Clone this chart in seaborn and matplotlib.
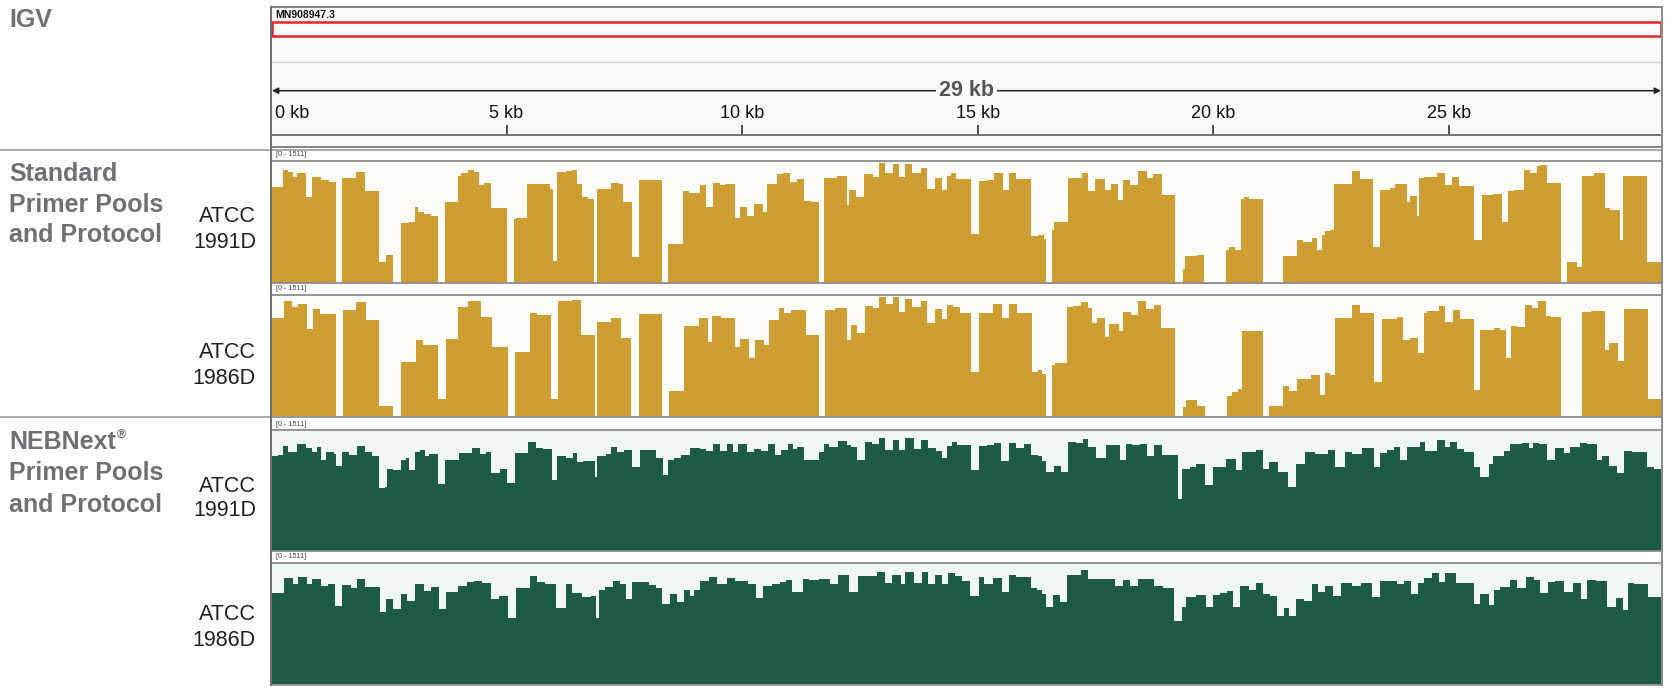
import numpy as np
import pandas as pd
import matplotlib
matplotlib.use("Agg")
import matplotlib.pyplot as plt
from matplotlib.lines import Line2D
from matplotlib.patches import Rectangle
import seaborn as sns

# ---------------- data ----------------
genome_id = "MN908947.3"
span_label = "29 kb"
view_start_kb = 0.0
view_end_kb = 29.53
data_range_label = "[0 - 1511]"
depth_max = 1511
ruler_ticks_kb = [0, 5, 10, 15, 20, 25]
ruler_tick_labels = ["0 kb", "5 kb", "10 kb", "15 kb", "20 kb", "25 kb"]

group_titles = [["Standard", "Primer Pools", "and Protocol"],
                ["NEBNext", "Primer Pools", "and Protocol"]]
sample_names = [["ATCC", "1991D"], ["ATCC", "1986D"], ["ATCC", "1991D"], ["ATCC", "1986D"]]

# Standard primer pools, ATCC 1991D  (step start in kb, read depth)
std_1991d_start = [
    0.00, 0.25, 0.36, 0.46, 0.55, 0.74, 0.86, 1.07, 1.23, 1.37,
    1.50, 1.80, 1.99, 2.30, 2.45, 2.58, 2.75, 2.94, 3.05, 3.13,
    3.24, 3.39, 3.55, 3.70, 3.96, 4.04, 4.19, 4.30, 4.42, 4.53,
    4.68, 5.02, 5.16, 5.21, 5.44, 5.67, 5.93, 5.98, 6.07, 6.27,
    6.39, 6.50, 6.60, 6.73, 6.86, 6.92, 7.22, 7.39, 7.48, 7.66,
    7.81, 8.30, 8.43, 8.74, 8.87, 9.11, 9.23, 9.38, 9.53, 9.64,
    9.86, 9.95, 10.10, 10.25, 10.44, 10.54, 10.63, 10.74, 10.86, 11.01,
    11.17, 11.32, 11.47, 11.64, 11.74, 12.01, 12.22, 12.27, 12.42, 12.59,
    12.78, 12.90, 13.03, 13.20, 13.33, 13.45, 13.60, 13.79, 13.92, 14.09,
    14.24, 14.36, 14.43, 14.55, 14.87, 15.02, 15.19, 15.34, 15.53, 15.66,
    15.81, 16.14, 16.29, 16.40, 16.46, 16.59, 16.63, 16.92, 17.22, 17.35,
    17.50, 17.71, 17.84, 17.99, 18.09, 18.24, 18.41, 18.59, 18.72, 18.91,
    19.19, 19.36, 19.40, 19.66, 19.81, 20.28, 20.33, 20.46, 20.59, 20.66,
    20.76, 21.07, 21.48, 21.73, 21.79, 21.91, 22.10, 22.20, 22.31, 22.38,
    22.49, 22.57, 22.95, 23.12, 23.23, 23.39, 23.55, 23.76, 23.87, 24.01,
    24.11, 24.17, 24.33, 24.38, 24.47, 24.75, 24.93, 25.07, 25.21, 25.53,
    25.71, 25.95, 26.13, 26.27, 26.38, 26.59, 26.73, 26.87, 26.95, 27.09,
    27.38, 27.51, 27.72, 27.83, 28.08, 28.33, 28.43, 28.63, 28.71, 29.21]
std_1991d_depth = [
    1190, 1405, 1375, 1307, 1360, 1058, 1307, 1269, 1254, 0,
    1299, 1375, 1133, 257, 348, 0, 740, 756, 937, 876,
    846, 831, 0, 997, 1330, 1360, 1405, 1375, 1209, 1239,
    922, 0, 786, 801, 1231, 1224, 1163, 272, 1375, 1390,
    1405, 1231, 1058, 1043, 0, 1163, 1239, 1231, 997, 317,
    1269, 0, 484, 1133, 1118, 1209, 937, 1239, 1209, 1224,
    801, 937, 831, 982, 876, 1224, 1231, 1345, 1360, 1254,
    1284, 1012, 997, 0, 1299, 1322, 967, 1148, 1058, 1345,
    1307, 1481, 1367, 1473, 1307, 1473, 1360, 1428, 1163, 1299,
    1148, 1330, 1367, 1284, 604, 1262, 1269, 1360, 1148, 1367,
    1284, 574, 589, 544, 0, 650, 756, 1299, 1367, 1133,
    1284, 1148, 1231, 1027, 1269, 1209, 1390, 1299, 1345, 1088,
    0, 166, 325, 348, 0, 408, 438, 400, 1043, 1058,
    1043, 0, 332, 325, 529, 500, 552, 400, 589, 635,
    650, 1231, 1390, 1292, 1284, 438, 1148, 1171, 1231, 1224,
    1005, 1073, 831, 1299, 1307, 1367, 1209, 1307, 1194, 529,
    1088, 1103, 756, 1133, 1148, 1405, 1360, 1451, 1466, 1239,
    0, 257, 196, 1330, 1360, 922, 907, 529, 1330, 257]

# Standard primer pools, ATCC 1986D
std_1986d_start = [
    0.00, 0.27, 0.44, 0.58, 0.76, 0.89, 1.05, 1.38, 1.52, 1.81,
    2.01, 2.30, 2.59, 2.77, 3.08, 3.23, 3.54, 3.71, 3.98, 4.19,
    4.46, 4.69, 5.03, 5.17, 5.49, 5.65, 5.94, 6.09, 6.40, 6.59,
    6.88, 6.93, 7.22, 7.43, 7.65, 7.82, 8.30, 8.45, 8.76, 9.09,
    9.27, 9.36, 9.55, 9.86, 9.96, 10.15, 10.27, 10.47, 10.58, 10.78,
    10.90, 11.04, 11.35, 11.64, 11.77, 11.98, 12.22, 12.31, 12.44, 12.60,
    12.77, 12.91, 13.06, 13.21, 13.34, 13.45, 13.61, 13.79, 13.92, 14.09,
    14.24, 14.36, 14.48, 14.62, 14.87, 15.04, 15.33, 15.52, 15.67, 15.84,
    16.15, 16.29, 16.37, 16.45, 16.59, 16.64, 16.90, 17.03, 17.19, 17.34,
    17.42, 17.53, 17.71, 17.80, 18.01, 18.09, 18.26, 18.40, 18.58, 18.74,
    18.90, 19.19, 19.37, 19.42, 19.66, 19.83, 20.29, 20.41, 20.53, 20.61,
    21.06, 21.19, 21.48, 21.61, 21.79, 22.08, 22.27, 22.37, 22.48, 22.58,
    22.95, 23.12, 23.41, 23.58, 23.90, 24.03, 24.19, 24.35, 24.47, 24.54,
    24.79, 24.93, 25.10, 25.25, 25.54, 25.67, 25.96, 26.09, 26.22, 26.33,
    26.45, 26.62, 26.76, 26.89, 27.06, 27.18, 27.38, 27.83, 28.02, 28.15,
    28.31, 28.41, 28.60, 28.73, 29.23]
std_1986d_depth = [
    1231, 1435, 1360, 1398, 1088, 1337, 1269, 0, 1322, 1420,
    1194, 136, 0, 680, 952, 884, 212, 967, 1360, 1435,
    1239, 861, 0, 801, 1284, 1262, 219, 1435, 1451, 1012,
    0, 1171, 1224, 982, 0, 1269, 0, 317, 1126, 1224,
    922, 1254, 1231, 861, 967, 725, 952, 884, 1194, 1345,
    1292, 1322, 1012, 0, 1322, 1345, 952, 1133, 1043, 1375,
    1345, 1488, 1405, 1481, 1299, 1466, 1360, 1435, 1163, 1337,
    1209, 1383, 1360, 1284, 552, 1292, 1405, 1231, 1405, 1292,
    559, 574, 529, 0, 635, 665, 1360, 1375, 1428, 1345,
    1163, 1224, 990, 1156, 1058, 1299, 1262, 1435, 1337, 1383,
    1095, 0, 113, 204, 136, 0, 257, 310, 340, 1065,
    0, 136, 385, 317, 461, 514, 272, 544, 514, 1224,
    1390, 1284, 423, 1209, 1239, 952, 982, 786, 1284, 1307,
    1375, 1179, 1322, 1209, 332, 1080, 1103, 1073, 725, 1126,
    1118, 1383, 1345, 1435, 1247, 1239, 0, 1299, 1315, 1307,
    823, 914, 695, 1337, 219]

# NEBNext primer pools, ATCC 1991D
neb_1991d_start = [
    0.00, 0.14, 0.25, 0.36, 0.55, 0.74, 0.86, 0.97, 1.07, 1.16,
    1.33, 1.39, 1.50, 1.65, 1.83, 1.99, 2.14, 2.30, 2.41, 2.47,
    2.60, 2.75, 2.86, 2.94, 3.05, 3.17, 3.27, 3.36, 3.55, 3.70,
    3.92, 4.00, 4.27, 4.43, 4.57, 4.68, 4.86, 5.01, 5.17, 5.46,
    5.63, 5.78, 5.97, 6.07, 6.27, 6.42, 6.50, 6.62, 6.88, 6.93,
    7.11, 7.22, 7.34, 7.49, 7.66, 7.83, 7.98, 8.17, 8.32, 8.43,
    8.55, 8.70, 8.89, 9.11, 9.23, 9.38, 9.53, 9.68, 9.80, 9.91,
    10.10, 10.25, 10.40, 10.55, 10.70, 10.82, 10.97, 11.08, 11.17, 11.32,
    11.63, 11.74, 11.85, 12.03, 12.23, 12.31, 12.45, 12.60, 12.76, 12.90,
    13.03, 13.20, 13.33, 13.46, 13.64, 13.79, 13.94, 14.11, 14.24, 14.36,
    14.45, 14.57, 14.87, 15.02, 15.19, 15.34, 15.49, 15.66, 15.81, 15.99,
    16.14, 16.28, 16.37, 16.46, 16.63, 16.77, 16.92, 17.09, 17.24, 17.35,
    17.52, 17.73, 18.03, 18.15, 18.28, 18.45, 18.60, 18.75, 18.91, 19.25,
    19.35, 19.50, 19.63, 19.82, 20.00, 20.28, 20.48, 20.61, 20.91, 21.07,
    21.18, 21.37, 21.60, 21.77, 21.96, 22.17, 22.45, 22.59, 22.81, 22.95,
    23.16, 23.41, 23.55, 23.69, 23.83, 23.97, 24.11, 24.40, 24.50, 24.75,
    24.93, 25.03, 25.18, 25.32, 25.53, 25.67, 25.85, 25.95, 26.17, 26.31,
    26.56, 26.70, 26.80, 26.91, 27.09, 27.26, 27.44, 27.58, 27.79, 27.94,
    28.15, 28.26, 28.40, 28.57, 28.73, 28.89, 29.21, 29.35]
neb_1991d_depth = [
    1179, 1194, 1315, 1239, 1330, 1284, 1239, 1299, 1133, 1239,
    1216, 1058, 1239, 1194, 1315, 1239, 1179, 778, 801, 1027,
    1012, 1133, 1156, 1012, 1239, 1262, 1179, 1216, 831, 1133,
    1141, 1224, 1284, 1216, 1239, 975, 1020, 846, 1224, 1360,
    1284, 1269, 884, 1179, 1156, 1224, 1111, 1118, 922, 1179,
    1209, 1299, 1239, 1254, 1043, 1262, 1254, 1163, 944, 1133,
    1156, 1194, 1284, 1269, 1247, 1330, 1247, 1330, 1239, 1330,
    1239, 1269, 1247, 1330, 1194, 1262, 1330, 1269, 1299, 1133,
    1239, 1330, 1299, 1375, 1322, 1292, 1133, 1360, 1330, 1405,
    1254, 1390, 1262, 1405, 1269, 1383, 1284, 1247, 1163, 1315,
    1360, 1322, 1012, 1307, 1322, 1345, 1118, 1345, 1284, 1330,
    1194, 1179, 1118, 990, 1058, 990, 1360, 1345, 1398, 1292,
    1156, 1322, 1141, 1330, 1322, 1337, 1179, 1322, 1194, 650,
    1027, 1043, 1088, 816, 1043, 1148, 1012, 1239, 1262, 1027,
    1111, 990, 801, 1088, 1239, 1216, 1254, 1050, 1239, 1209,
    1284, 1043, 1224, 1262, 1292, 1133, 1299, 1360, 1247, 1383,
    1299, 1360, 1269, 1239, 1043, 922, 1088, 1179, 1247, 1330,
    1345, 1284, 1345, 1330, 1141, 1284, 1224, 1292, 1345, 1330,
    1133, 1179, 1058, 967, 1247, 1239, 1050, 1027]

# NEBNext primer pools, ATCC 1986D
neb_1986d_start = [
    0.00, 0.27, 0.46, 0.58, 0.76, 0.87, 1.06, 1.21, 1.35, 1.50,
    1.69, 1.83, 1.99, 2.31, 2.44, 2.58, 2.75, 2.89, 3.06, 3.25,
    3.40, 3.56, 3.71, 3.98, 4.17, 4.32, 4.48, 4.67, 4.84, 5.03,
    5.20, 5.32, 5.49, 5.65, 5.81, 5.92, 6.06, 6.26, 6.40, 6.61,
    6.79, 6.90, 6.96, 7.10, 7.25, 7.41, 7.54, 7.67, 7.82, 8.02,
    8.18, 8.30, 8.47, 8.61, 8.76, 8.90, 8.99, 9.11, 9.29, 9.46,
    9.67, 9.86, 10.13, 10.30, 10.44, 10.63, 10.81, 10.94, 11.06, 11.29,
    11.42, 11.64, 11.86, 12.03, 12.27, 12.46, 12.86, 13.04, 13.18, 13.37,
    13.47, 13.66, 13.82, 13.94, 14.09, 14.24, 14.38, 14.53, 14.67, 14.84,
    15.02, 15.13, 15.33, 15.52, 15.67, 15.81, 16.13, 16.27, 16.37, 16.45,
    16.61, 16.74, 16.90, 17.19, 17.34, 17.51, 17.92, 18.09, 18.24, 18.40,
    18.74, 18.93, 19.18, 19.35, 19.42, 19.64, 19.85, 20.00, 20.14, 20.29,
    20.43, 20.58, 20.77, 20.92, 21.06, 21.21, 21.35, 21.50, 21.61, 21.77,
    21.93, 22.10, 22.22, 22.37, 22.54, 22.71, 22.95, 23.14, 23.38, 23.55,
    23.72, 23.90, 24.06, 24.20, 24.35, 24.47, 24.64, 24.79, 24.93, 25.15,
    25.54, 25.66, 25.85, 25.97, 26.09, 26.30, 26.45, 26.65, 26.82, 26.95,
    27.11, 27.25, 27.44, 27.63, 27.80, 27.93, 28.12, 28.36, 28.56, 28.70,
    28.80, 28.94, 29.23]
neb_1986d_depth = [
    1141, 1322, 1254, 1337, 1254, 1315, 1231, 1254, 982, 1239,
    1194, 1315, 1209, 899, 1058, 937, 1126, 1043, 1254, 1163,
    1209, 937, 1148, 1231, 1277, 1284, 1262, 1065, 1103, 831,
    1194, 1201, 1345, 1269, 1254, 1247, 952, 1254, 1141, 1088,
    1103, 831, 1179, 1209, 1284, 1247, 1065, 1269, 1277, 1239,
    1194, 997, 1126, 1020, 1179, 1103, 1179, 1292, 1337, 1254,
    1330, 1284, 1254, 1073, 1231, 1254, 1277, 1299, 1148, 1315,
    1299, 1315, 1247, 1360, 1148, 1345, 1398, 1262, 1367, 1254,
    1398, 1262, 1398, 1254, 1360, 1254, 1383, 1345, 1284, 1103,
    1337, 1254, 1330, 1148, 1360, 1337, 1201, 1179, 1126, 959,
    1118, 1020, 1367, 1420, 1315, 1307, 1231, 1299, 1231, 1315,
    1224, 1201, 793, 959, 1088, 1118, 959, 1118, 1133, 1163,
    967, 1231, 1179, 1262, 1126, 1103, 854, 952, 846, 1065,
    1035, 1247, 1148, 1231, 1103, 1262, 1224, 1262, 1088, 1284,
    1292, 1247, 1292, 1126, 1262, 1330, 1383, 1269, 1383, 1262,
    997, 1126, 990, 1179, 1216, 1299, 1194, 1337, 1299, 1141,
    1269, 1292, 1148, 1262, 1065, 1299, 1292, 959, 1073, 922,
    1262, 1254, 1088]

# ---------------- style ----------------
W, H = 1674, 692
sns.set_theme(style="white")
plt.rcParams["font.family"] = ["Liberation Sans", "DejaVu Sans"]

GOLD = "#cf9e32"
GREEN = "#1d5a48"
GOLD_BG = "#fdfcf9"
GREEN_BG = "#f0f6f6"
LABEL_GRAY = "#6f7073"
LINE_GRAY = "#8c8c8c"

fig = plt.figure(figsize=(W / 100, H / 100), dpi=100)
fig.patch.set_facecolor("white")


def fx(px):
    return px / W


def fy(py):
    return 1 - py / H


PL, PR = 271, 1662


def add_ax(top, bottom):
    return fig.add_axes([fx(PL), fy(bottom), (PR - PL) / W, (bottom - top) / H])


def hline(y, x0, x1, color=LINE_GRAY, lw=1.3):
    fig.add_artist(Line2D([fx(x0), fx(x1)], [fy(y), fy(y)], color=color, lw=lw,
                          transform=fig.transFigure))


# ---------------- ruler ----------------
R_TOP, R_BOT = 6.7, 146.7
axr = add_ax(R_TOP, R_BOT)
axr.set_xlim(view_start_kb, view_end_kb)
axr.set_ylim(R_BOT, R_TOP)
axr.set_facecolor("#f9f9f9")
axr.set_xticks([])
axr.set_yticks([])
axr.grid(False)
for s in axr.spines.values():
    s.set_color("#7a7a7a")
    s.set_linewidth(1.3)
axr.text(0.09, 15, genome_id, fontsize=7.5, fontweight="bold", ha="left", va="center",
         color="#111111")
axr.add_patch(Rectangle((0.02, 22), view_end_kb - 0.04, 14, facecolor="#fbfbfb",
                        edgecolor="#e2242b", lw=1.8))
axr.axhline(62, color="#d6d7e0", lw=1.0)
axr.annotate("", xy=(view_start_kb + 0.02, 90.7), xytext=(view_end_kb - 0.02, 90.7),
             arrowprops=dict(arrowstyle="<|-|>", color="#222222", lw=1.1,
                             mutation_scale=9, shrinkA=0, shrinkB=0))
axr.text((view_start_kb + view_end_kb) / 2, 90.7, span_label, fontsize=15.5,
         fontweight="bold", color="#555555", ha="center", va="center",
         bbox=dict(facecolor="#f9f9f9", edgecolor="none", pad=2.5))
for t, lab in zip(ruler_ticks_kb, ruler_tick_labels):
    if t == view_start_kb:
        axr.text(t + 0.09, 113, lab, fontsize=13, color="#111111", ha="left", va="center")
    else:
        axr.text(t, 113, lab, fontsize=13, color="#111111", ha="center", va="center")
axr.vlines([t for t in ruler_ticks_kb if t > view_start_kb], 125, 135, color="#333333", lw=1.2)
axr.axhline(135, color="#666666", lw=1.3)

# ---------------- coverage tracks ----------------
tracks = [
    (161, 282.5, std_1991d_start, std_1991d_depth, GOLD, GOLD_BG),
    (295, 416.5, std_1986d_start, std_1986d_depth, GOLD, GOLD_BG),
    (430, 550.5, neb_1991d_start, neb_1991d_depth, GREEN, GREEN_BG),
    (563, 684.5, neb_1986d_start, neb_1986d_depth, GREEN, GREEN_BG),
]

for top, bot, starts, depth, color, bg in tracks:
    ax = add_ax(top, bot)
    edges = list(starts) + [view_end_kb]
    df = pd.DataFrame({"start": starts, "end": edges[1:], "depth": depth})
    df["mid"] = (df["start"] + df["end"]) / 2
    sns.histplot(data=df, x="mid", weights="depth", bins=edges, element="step",
                 fill=True, color=color, alpha=1, linewidth=0, ax=ax)
    ax.set_xlim(view_start_kb, view_end_kb)
    ax.set_ylim(0, depth_max)
    ax.set_facecolor(bg)
    ax.set_xticks([])
    ax.set_yticks([])
    ax.set_xlabel("")
    ax.set_ylabel("")
    ax.grid(False)
    for name, s in ax.spines.items():
        s.set_color(LINE_GRAY)
        s.set_linewidth(1.3)
    ax.spines["left"].set_color("#6e6e6e")
    # header with data range
    fig.text(fx(PL + 5), fy(top - 6), data_range_label, fontsize=5.2, color="#444444",
             ha="left", va="center")

# separators and panel borders
hline(150, 0, PR, color="#9a9a9a", lw=1.2)
hline(417, 0, PR, color="#9a9a9a", lw=1.2)
fig.add_artist(Line2D([fx(PL), fx(PL)], [fy(R_TOP), fy(684.5)], color="#6e6e6e", lw=1.4,
                      transform=fig.transFigure))
fig.add_artist(Line2D([fx(PR), fx(PR)], [fy(R_TOP), fy(684.5)], color="#8c8c8c", lw=1.4,
                      transform=fig.transFigure))

# ---------------- left labels ----------------
GROUP_FS = 18
fig.text(fx(9), fy(20), "IGV", fontsize=GROUP_FS, fontweight="bold", color=LABEL_GRAY,
         ha="left", va="center")
group_y = [[174, 205, 235], [442, 473, 505]]
group_text_objs = []
for lines, ys in zip(group_titles, group_y):
    objs = []
    for line, y in zip(lines, ys):
        objs.append(fig.text(fx(9), fy(y), line, fontsize=GROUP_FS, fontweight="bold",
                             color=LABEL_GRAY, ha="left", va="center"))
    group_text_objs.append(objs)

sample_y = [[217, 243], [352, 378], [486, 511], [615, 641]]
for names, ys in zip(sample_names, sample_y):
    for name, y in zip(names, ys):
        fig.text(fx(256), fy(y), name, fontsize=15.5, color="#231f20", ha="right",
                 va="center")

# registered mark after NEBNext
fig.canvas.draw()
renderer = fig.canvas.get_renderer()
bb = group_text_objs[1][0].get_window_extent(renderer)
fig.text(bb.x1 / fig.bbox.width + 0.0006, (bb.y1 + 1) / fig.bbox.height, "\u00ae",
         fontsize=9, fontweight="bold", color=LABEL_GRAY, ha="left", va="top")

fig.savefig("out.png", dpi=100, facecolor="white")
